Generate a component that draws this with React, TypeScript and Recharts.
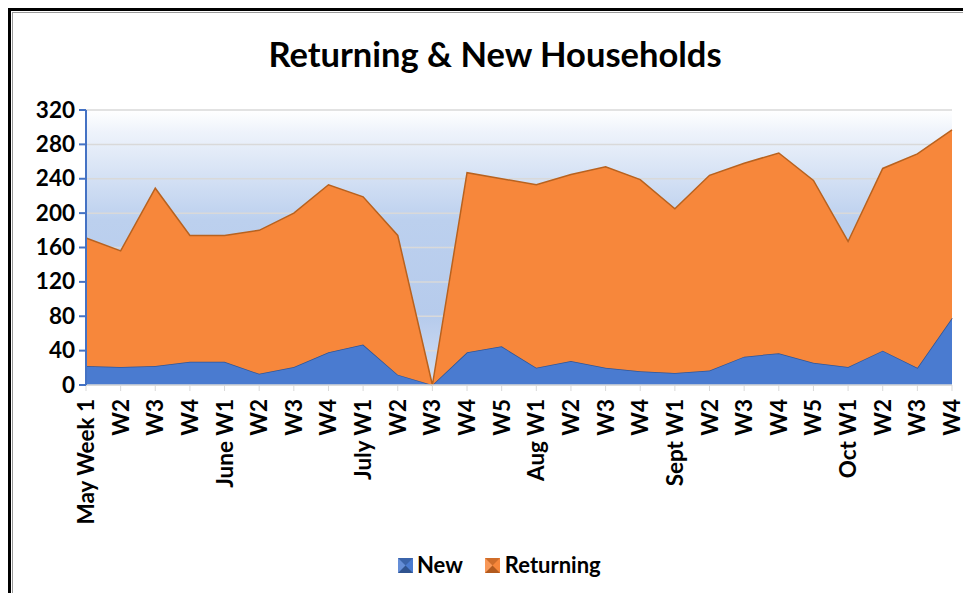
import React from 'react';
import { AreaChart, Area, XAxis, YAxis, CartesianGrid } from 'recharts';

const weekLabels = [
  'May Week 1', 'W2', 'W3', 'W4',
  'June W1', 'W2', 'W3', 'W4',
  'July W1', 'W2', 'W3', 'W4', 'W5',
  'Aug W1', 'W2', 'W3', 'W4',
  'Sept W1', 'W2', 'W3', 'W4', 'W5',
  'Oct W1', 'W2', 'W3', 'W4',
];

const newHouseholds = [22, 21, 22, 27, 27, 13, 21, 38, 47, 12, 0, 38, 45, 20, 28, 20, 16, 14, 17, 33, 37, 26, 21, 40, 20, 78];

const returningHouseholds = [149, 135, 207, 147, 147, 167, 179, 195, 172, 162, 0, 209, 195, 213, 217, 234, 223, 191, 227, 225, 233, 212, 146, 212, 249, 219];

const yTicks = [0, 40, 80, 120, 160, 200, 240, 280, 320];

const seriesNames = ['New', 'Returning'];
const seriesColors = ['#4A7BD0', '#F7873B'];
const seriesStrokes = ['#2F5597', '#B8621F'];

const data = weekLabels.map((w, i) => ({
  idx: i,
  week: w,
  New: newHouseholds[i],
  Returning: returningHouseholds[i],
}));

const FONT = 'Lato, "Open Sans", sans-serif';

const XTick = (props: any) => {
  const { x, y, payload } = props;
  return (
    <text
      x={0}
      y={0}
      transform={`translate(${x + 8},${y + 6}) rotate(-90)`}
      textAnchor="end"
      fontFamily={FONT}
      fontWeight={700}
      fontSize={22.5}
      fill="#000"
    >
      {weekLabels[payload.value]}
    </text>
  );
};

const YTick = (props: any) => {
  const { x, y, payload } = props;
  return (
    <text
      x={x}
      y={y}
      dy={7.5}
      textAnchor="end"
      fontFamily={FONT}
      fontWeight={700}
      fontSize={22.5}
      fill="#000"
    >
      {payload.value}
    </text>
  );
};

const LegendIcon = ({ color, dark }: { color: string; dark: string }) => (
  <svg width={15} height={15} style={{ display: 'block' }}>
    <rect x={0} y={0} width={15} height={15} fill={color} />
    <polygon points="0,0 15,0 7.5,7.5" fill={dark} opacity={0.35} />
    <polygon points="0,15 15,15 7.5,7.5" fill={dark} opacity={0.6} />
    <polygon points="0,0 0,15 7.5,7.5" fill="#ffffff" opacity={0.15} />
  </svg>
);

export default function App() {
  return (
    <div
      style={{
        position: 'relative',
        width: 971,
        height: 601,
        margin: -8,
        overflow: 'hidden',
        background: '#fff',
      }}
    >
      <div
        style={{
          position: 'absolute',
          left: 7,
          top: 7,
          width: 1000,
          height: 700,
          border: '4px solid #000',
          boxSizing: 'border-box',
        }}
      />
      <div
        style={{
          position: 'absolute',
          left: 12,
          top: 12,
          width: 1000,
          height: 700,
          border: '1px solid #9a9a9a',
          boxSizing: 'border-box',
        }}
      />
      <div
        style={{
          position: 'absolute',
          left: 0,
          top: 33,
          width: 990,
          textAlign: 'center',
          fontFamily: FONT,
          fontWeight: 700,
          fontSize: 34.5,
          lineHeight: '42px',
          color: '#000',
        }}
      >
        Returning &amp; New Households
      </div>
      <div style={{ position: 'absolute', left: 0, top: 0 }}>
        <AreaChart
          width={971}
          height={601}
          data={data}
          margin={{ top: 110, right: 19, bottom: 76, left: 0 }}
        >
          <defs>
            <linearGradient id="plotBg" x1="0" y1="0" x2="0" y2="1">
              <stop offset="0%" stopColor="#ffffff" />
              <stop offset="8%" stopColor="#eef3fb" />
              <stop offset="40%" stopColor="#bcd0ee" />
              <stop offset="75%" stopColor="#b6cbec" />
              <stop offset="100%" stopColor="#d3dff3" />
            </linearGradient>
          </defs>
          <CartesianGrid
            vertical={false}
            stroke="#d9d9d9"
            strokeWidth={1.5}
            fill="url(#plotBg)"
            fillOpacity={1}
          />
          <XAxis
            dataKey="idx"
            type="category"
            interval={0}
            height={140}
            tick={<XTick />}
            tickLine={{ stroke: '#d9d9d9' }}
            tickSize={6}
            axisLine={{ stroke: '#d9d9d9', strokeWidth: 1.5 }}
          />
          <YAxis
            width={86}
            domain={[0, 320]}
            ticks={yTicks}
            interval={0}
            tick={<YTick />}
            tickSize={7}
            tickMargin={4}
            tickLine={{ stroke: '#4472C4', strokeWidth: 2 }}
            axisLine={{ stroke: '#4472C4', strokeWidth: 2 }}
          />
          <Area
            type="linear"
            dataKey="New"
            name={seriesNames[0]}
            stackId="1"
            fill={seriesColors[0]}
            fillOpacity={1}
            stroke={seriesStrokes[0]}
            strokeWidth={1.5}
            isAnimationActive={false}
          />
          <Area
            type="linear"
            dataKey="Returning"
            name={seriesNames[1]}
            stackId="1"
            fill={seriesColors[1]}
            fillOpacity={1}
            stroke={seriesStrokes[1]}
            strokeWidth={1.5}
            isAnimationActive={false}
          />
        </AreaChart>
      </div>
      <div
        style={{
          position: 'absolute',
          left: 398,
          top: 552,
          display: 'flex',
          alignItems: 'center',
          fontFamily: FONT,
          fontWeight: 700,
          fontSize: 22,
          lineHeight: '26px',
          color: '#000',
        }}
      >
        <LegendIcon color={seriesColors[0]} dark="#1f3864" />
        <span style={{ marginLeft: 4, marginRight: 22 }}>{seriesNames[0]}</span>
        <LegendIcon color={seriesColors[1]} dark="#843c0c" />
        <span style={{ marginLeft: 5 }}>{seriesNames[1]}</span>
      </div>
    </div>
  );
}
